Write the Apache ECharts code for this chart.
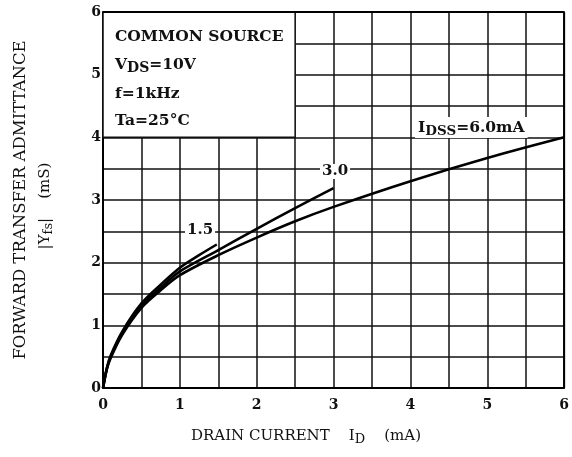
<!DOCTYPE html>
<html>
<head>
<meta charset="utf-8">
<script src="https://cdn.jsdelivr.net/npm/echarts@6/dist/echarts.min.js"></script>
<style>
  html, body { margin: 0; padding: 0; background: #fff; }
  #chart { width: 572px; height: 457px; }
</style>
</head>
<body>
<div id="chart"></div>
<script>
// |Yfs| - ID curves
const xTicks = [0, 1, 2, 3, 4, 5, 6]
const yTicks = [0, 1, 2, 3, 4, 5, 6]

// IDSS = 6.0 mA
const idss60 = [
  [0, 0], [0.05, 0.3], [0.1, 0.48], [0.25, 0.85], [0.5, 1.28], [0.75, 1.56],
  [1, 1.8], [1.5, 2.12], [2, 2.4], [2.5, 2.66], [3, 2.89], [4, 3.3],
  [5, 3.67], [6, 4.0]
]
// IDSS = 3.0 mA
const idss30 = [
  [0, 0], [0.05, 0.31], [0.1, 0.5], [0.25, 0.88], [0.5, 1.32], [0.75, 1.6],
  [1, 1.86], [1.5, 2.2], [2, 2.54], [2.5, 2.87], [3, 3.19]
]
// IDSS = 1.5 mA
const idss15 = [
  [0, 0], [0.05, 0.32], [0.1, 0.52], [0.25, 0.9], [0.5, 1.35], [0.75, 1.65],
  [1, 1.92], [1.25, 2.12], [1.48, 2.29]
]

const serif = '"DejaVu Serif", "Liberation Serif", serif'
const myChart = echarts.init(document.getElementById('chart'))

const curve = (data) => ({
  type: 'line',
  data: data,
  smooth: 0.3,
  symbol: 'none',
  lineStyle: { color: '#000', width: 2.6 },
  z: 5
})

myChart.setOption({
  animation: false,
  backgroundColor: '#fff',
  grid: { left: 103, right: 7, top: 12, bottom: 69 },
  xAxis: {
    type: 'value',
    min: 0,
    max: 6,
    interval: 0.5,
    axisLine: { show: true, onZero: false, lineStyle: { color: '#000', width: 2 } },
    axisTick: { show: false },
    axisLabel: {
      margin: 10,
      color: '#111',
      fontFamily: serif,
      fontWeight: 'bold',
      fontSize: 14,
      formatter: (v) => (xTicks.includes(v) ? String(v) : '')
    },
    splitLine: { show: true, lineStyle: { color: '#111', width: 1.5 } }
  },
  yAxis: {
    type: 'value',
    min: 0,
    max: 6,
    interval: 0.5,
    axisLine: { show: true, onZero: false, lineStyle: { color: '#000', width: 2 } },
    axisTick: { show: false },
    axisLabel: {
      margin: 2,
      color: '#111',
      fontFamily: serif,
      fontWeight: 'bold',
      fontSize: 14,
      formatter: (v) => (yTicks.includes(v) ? String(v) : '')
    },
    splitLine: { show: true, lineStyle: { color: '#111', width: 1.5 } }
  },
  series: [
    Object.assign(curve(idss60), {
      // white box for the test conditions
      markArea: {
        silent: true,
        itemStyle: { color: '#fff', borderColor: '#111', borderWidth: 1.5 },
        data: [[{ coord: [0, 4] }, { coord: [2.5, 6] }]]
      }
    }),
    curve(idss30),
    curve(idss15),
    // right and top border
    {
      type: 'line',
      data: [[0, 6], [6, 6], [6, 0]],
      symbol: 'none',
      lineStyle: { color: '#000', width: 2 },
      z: 6
    }
  ],
  graphic: [
    // conditions text
    { type: 'text', left: 115, top: 29, z: 100, style: { text: 'COMMON SOURCE', font: 'bold 15.5px ' + serif, fill: '#111' } },
    {
      type: 'text', left: 115, top: 57, z: 100,
      style: {
        text: '{a|V}{s|DS}{a|=10V}',
        rich: {
          a: { font: 'bold 15.5px ' + serif, fill: '#111' },
          s: { font: 'bold 14px ' + serif, fill: '#111', padding: [7, 0, 0, 0] }
        }
      }
    },
    { type: 'text', left: 115, top: 86, z: 100, style: { text: 'f=1kHz', font: 'bold 15.5px ' + serif, fill: '#111' } },
    { type: 'text', left: 115, top: 113, z: 100, style: { text: 'Ta=25°C', font: 'bold 15.5px ' + serif, fill: '#111' } },
    // curve labels
    {
      type: 'text', left: 185, top: 223, z: 100,
      style: { text: '1.5', font: 'bold 15px ' + serif, fill: '#111', backgroundColor: '#fff', padding: [0, 2] }
    },
    {
      type: 'text', left: 320, top: 164, z: 100,
      style: { text: '3.0', font: 'bold 15px ' + serif, fill: '#111', backgroundColor: '#fff', padding: [0, 2] }
    },
    {
      type: 'text', left: 415, top: 117, z: 100,
      style: {
        text: '{a|I}{s|DSS}{a|=6.0mA}',
        backgroundColor: '#fff',
        padding: [0, 3],
        rich: {
          a: { font: 'bold 15.5px ' + serif, fill: '#111' },
          s: { font: 'bold 13.5px ' + serif, fill: '#111', padding: [7, 0, 0, 0] }
        }
      }
    },
    // axis titles
    {
      type: 'text', x: 306, y: 436, z: 100,
      style: {
        text: '{a|DRAIN CURRENT    I}{s|D}{a|    (mA)}',
        align: 'center',
        verticalAlign: 'middle',
        rich: {
          a: { font: '15px ' + serif, fill: '#111' },
          s: { font: '13px ' + serif, fill: '#111', padding: [7, 0, 0, 0] }
        }
      }
    },
    {
      type: 'text', x: 21, y: 200, rotation: Math.PI / 2, z: 100,
      style: {
        text: 'FORWARD TRANSFER ADMITTANCE',
        font: '16.5px ' + serif,
        fill: '#111',
        align: 'center',
        verticalAlign: 'middle'
      }
    },
    {
      type: 'text', x: 45, y: 206, rotation: Math.PI / 2, z: 100,
      style: {
        text: '{a||Y}{s|fs}{a||    (mS)}',
        align: 'center',
        verticalAlign: 'middle',
        rich: {
          a: { font: '15px ' + serif, fill: '#111' },
          s: { font: '13px ' + serif, fill: '#111', padding: [7, 0, 0, 0] }
        }
      }
    }
  ]
})

window.addEventListener('resize', () => {
  myChart.resize()
})
</script>
</body>
</html>
